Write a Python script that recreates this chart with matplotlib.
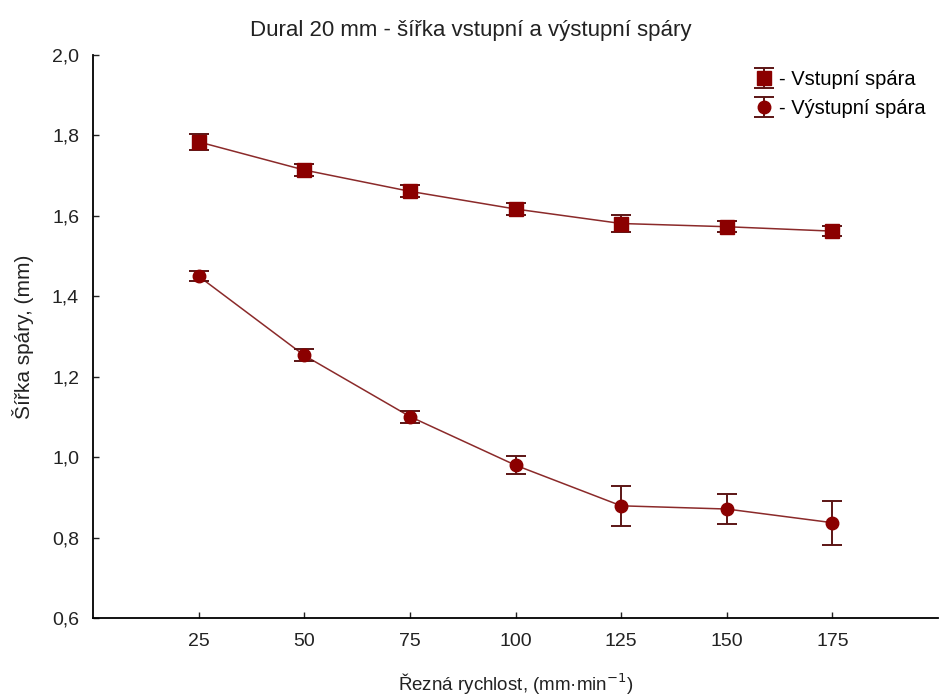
import matplotlib.pyplot as plt
from matplotlib.ticker import FuncFormatter
import matplotlib as mpl

mpl.rcParams['font.family'] = ['Liberation Sans', 'DejaVu Sans']

# Cutting speed and kerf widths with their error half-widths
rychlost = [25, 50, 75, 100, 125, 150, 175]
vstupni = [1.784, 1.714, 1.661, 1.617, 1.581, 1.573, 1.562]
vstupni_err = [0.019, 0.014, 0.015, 0.015, 0.021, 0.014, 0.013]
vystupni = [1.450, 1.253, 1.101, 0.980, 0.879, 0.871, 0.837]
vystupni_err = [0.012, 0.015, 0.015, 0.022, 0.049, 0.038, 0.055]

marker_color = '#8b0000'
line_color = '#8b2a2a'
err_color = '#5c1515'
text_color = '#222222'

fig = plt.figure(figsize=(9.42, 6.98), dpi=100)
ax = fig.add_axes([0.0987, 0.1146, 0.8971, 0.8066])

handles = []
for y, yerr, mk, ms, lab in [(vstupni, vstupni_err, 's', 10, '- Vstupní spára'),
                             (vystupni, vystupni_err, 'o', 9, '- Výstupní spára')]:
    ax.plot(rychlost, y, '-', color=line_color, lw=1.1, zorder=2)
    h = ax.errorbar(rychlost, y, yerr=yerr, fmt=mk, ms=ms, mfc=marker_color, mec=marker_color,
                    ecolor=err_color, elinewidth=1.4, capsize=7.5, capthick=1.4, zorder=3, label=lab)
    handles.append(h)

ax.legend(handles=handles, loc='upper right', bbox_to_anchor=(1.0, 0.995), frameon=False,
          fontsize=14.5, handlelength=0.9, handletextpad=0.3, labelspacing=0.5, borderaxespad=0.2)

ax.set_xlim(0, 200)
ax.set_ylim(0.6, 2.0)
ax.set_xticks(rychlost)
ax.set_yticks([0.6, 0.8, 1.0, 1.2, 1.4, 1.6, 1.8, 2.0])
ax.yaxis.set_major_formatter(FuncFormatter(lambda v, p: f"{v:.1f}".replace('.', ',')))
ax.tick_params(direction='in', length=4, width=1, labelsize=14, colors=text_color)
ax.tick_params(axis='x', pad=11)
ax.tick_params(axis='y', pad=10)
for s in ['top', 'right']:
    ax.spines[s].set_visible(False)
for s in ['left', 'bottom']:
    ax.spines[s].set_linewidth(1.3)

ax.set_xlabel('Řezná rychlost, (mm·min$^{-1}$)', fontsize=13.5, color=text_color, labelpad=15)
ax.set_ylabel('Šířka spáry, (mm)', fontsize=15, color=text_color, labelpad=13)
fig.suptitle('Dural 20 mm - šířka vstupní a výstupní spáry', x=0.5, y=0.972, fontsize=16,
             color=text_color)

fig.savefig('out.png', dpi=100)
